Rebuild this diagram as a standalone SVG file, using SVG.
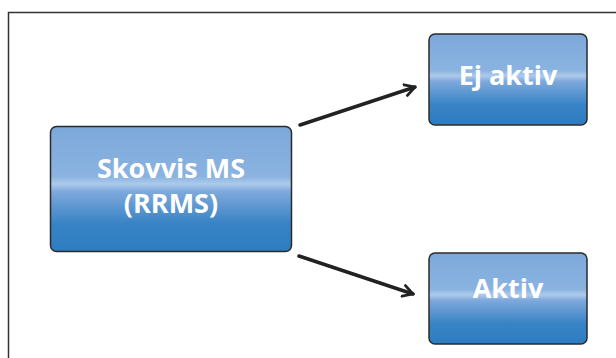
<svg xmlns="http://www.w3.org/2000/svg" width="616" height="358" viewBox="0 0 616 358">
<defs>
<linearGradient id="g" x1="0" y1="0" x2="0" y2="1">
<stop offset="0" stop-color="#7ca8da"/>
<stop offset="0.40" stop-color="#8ab3e0"/>
<stop offset="0.46" stop-color="#adcaeb"/>
<stop offset="0.52" stop-color="#7ea9dc"/>
<stop offset="0.78" stop-color="#3783c5"/>
<stop offset="1" stop-color="#2e7dc1"/>
</linearGradient>
<marker id="ah" viewBox="0 0 10 10" refX="8" refY="5" markerWidth="4" markerHeight="4" orient="auto" markerUnits="strokeWidth">
<path d="M1,1 L8,5 L1,9" fill="none" stroke="#222" stroke-width="2" stroke-linecap="round" stroke-linejoin="round"/>
</marker>
</defs>
<style>
.box{fill:url(#g);stroke:#2b2b2b;stroke-width:1.5}
.lbl{font-family:"Open Sans","Noto Sans","DejaVu Sans",sans-serif;font-weight:bold;font-size:27px;fill:#ffffff;text-anchor:middle}
.conn{stroke:#222;stroke-width:3.5;fill:none;stroke-linecap:round}
</style>
<rect x="0" y="0" width="616" height="358" fill="#ffffff"/>
<path d="M8.5,358 L8.5,12.5 L616,12.5" fill="none" stroke="#333" stroke-width="1.5"/>
<g id="connectors">
<line class="conn" x1="300" y1="125" x2="415" y2="87" marker-end="url(#ah)"/>
<line class="conn" x1="299" y1="256" x2="413" y2="294" marker-end="url(#ah)"/>
</g>
<g id="node-rrms">
<rect class="box" x="50.5" y="126.5" width="241" height="125" rx="6"/>
<text class="lbl" x="171" y="178">Skovvis MS</text>
<text class="lbl" x="171" y="213">(RRMS)</text>
</g>
<g id="node-ej-aktiv">
<rect class="box" x="429" y="34" width="158" height="91" rx="6"/>
<text class="lbl" x="508" y="85">Ej aktiv</text>
</g>
<g id="node-aktiv">
<rect class="box" x="429" y="253" width="158" height="91" rx="6"/>
<text class="lbl" x="508" y="298">Aktiv</text>
</g>
</svg>
